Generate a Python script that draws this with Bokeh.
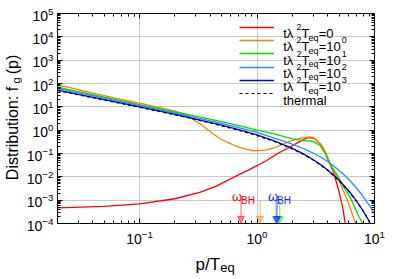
from bokeh.plotting import figure
from bokeh.layouts import column, row
from bokeh.models import (LogAxis, FixedTicker, Label, Legend, LegendItem, Arrow,
                          NormalHead, Range1d, CustomJSTickFormatter, Spacer)
from bokeh.embed import file_html
from bokeh.resources import INLINE

# ---------------- data ----------------
x_red = [0.02, 0.05, 0.1, 0.2, 0.33, 0.45, 0.63, 0.85, 1.0, 1.21, 1.5, 1.91, 2.32, 2.6, 2.8, 3.1,
         3.44, 3.7, 3.94, 4.2, 4.5, 4.8, 5.08, 5.4, 5.65]
y_red = [4.7e-4, 5.4e-4, 6.9e-4, 1.15e-3, 2.2e-3, 4.0e-3, 9.5e-3, 0.02, 0.03, 0.05, 0.1, 0.19, 0.33,
         0.44, 0.48, 0.43, 0.26, 0.15, 0.075, 0.034, 0.014, 0.0048, 1.6e-3, 4.0e-4, 9.0e-5]

x_orange = [0.02, 0.021, 0.025, 0.03, 0.04, 0.05, 0.07, 0.1, 0.14, 0.2, 0.237, 0.28, 0.328, 0.4,
            0.485, 0.57, 0.673, 0.8, 0.93, 1.05, 1.21, 1.4, 1.57, 1.9, 2.2, 2.5, 2.8, 3.1, 3.44,
            3.7, 3.94, 4.2, 4.5, 4.92, 5.43, 5.98, 6.6, 7.0]
y_orange = [90, 80, 68, 54, 39, 30, 21, 14.5, 10, 6.6, 5.0, 3.0, 1.87, 0.85, 0.43, 0.29, 0.2,
            0.155, 0.134, 0.132, 0.144, 0.175, 0.22, 0.33, 0.42, 0.48, 0.51, 0.45, 0.27, 0.16,
            0.08, 0.036, 0.016, 0.0081, 0.0026, 8.0e-4, 1.9e-4, 8.0e-5]

x_green = [0.02, 0.03, 0.05, 0.1, 0.2, 0.3, 0.5, 0.7, 1.0, 1.4, 2.0, 2.5, 3.0, 3.44, 3.8, 4.12,
           4.83, 5.5, 6.2, 7.4, 8.0]
y_green = [69, 45, 26, 12.3, 6.0, 4.0, 2.3, 1.58, 1.0, 0.69, 0.42, 0.36, 0.33, 0.22, 0.1, 0.04,
           0.0115, 3.5e-3, 1.35e-3, 1.9e-4, 9.0e-5]

x_lblue = [0.02, 0.03, 0.05, 0.1, 0.2, 0.3, 0.5, 0.7, 1.0, 1.4, 2.0, 2.5, 3.0, 3.5, 4.0, 5.0, 6.0,
           7.0, 8.0, 9.0, 10.0]
y_lblue = [60, 40, 23.5, 11.2, 5.33, 3.43, 1.96, 1.3, 0.8, 0.46, 0.25, 0.16, 0.105, 0.069, 0.045,
           0.019, 0.0081, 0.0034, 0.00145, 6.2e-4, 2.7e-4]

x_blue = [0.02, 0.03, 0.05, 0.1, 0.2, 0.3, 0.5, 0.7, 1.0, 1.4, 2.0, 2.5, 3.0, 3.5, 4.0, 5.0, 6.0,
          7.0, 8.0, 9.0, 10.0]
y_blue = [52, 34.5, 20.4, 9.9, 4.75, 3.0, 1.63, 1.05, 0.63, 0.35, 0.165, 0.094, 0.055, 0.0325,
          0.0195, 0.0071, 0.0026, 9.5e-4, 3.5e-4, 1.28e-4, 4.7e-5]

x_thermal = [0.02, 0.025, 0.03, 0.04, 0.05, 0.07, 0.1, 0.14, 0.2, 0.3, 0.4, 0.5, 0.7, 1.0, 1.4,
             2.0, 2.5, 3.0, 3.5, 4.0, 5.0, 6.0, 7.0, 8.0, 9.0, 10.0]
y_thermal = [49.5, 39.5, 32.8, 24.5, 19.5, 13.8, 9.5, 6.65, 4.52, 2.86, 2.03, 1.54, 0.986, 0.582,
             0.327, 0.157, 0.0894, 0.0524, 0.0311, 0.0187, 0.0068, 0.00249, 9.1e-4, 3.4e-4,
             1.23e-4, 4.5e-5]

series_x = [x_red, x_orange, x_green, x_lblue, x_blue]
series_y = [y_red, y_orange, y_green, y_lblue, y_blue]
series_colors = ["#ff0000", "#ff8000", "#00dd00", "#1e90ff", "#0000ff"]
legend_value = ["0", "10", "10", "10", "10"]
legend_expo = ["", "0", "1", "2", "3"]
omega_bh = [0.73, 1.06, 1.56, 1.45, 1.48]

x_major = [0.01, 0.1, 1, 10]
y_major = [10.0 ** e for e in range(-4, 6)]

FONT = "Liberation Sans"

# ---------------- main plot ----------------
p = figure(x_axis_type="log", y_axis_type="log",
           x_range=Range1d(0.02, 10), y_range=Range1d(1e-4, 1e5),
           frame_width=317, frame_height=210,
           min_border_left=35, min_border_top=13, min_border_right=17, min_border_bottom=27,
           output_backend="svg", toolbar_location=None,
           background_fill_color="white", border_fill_color="white",
           outline_line_color="black", outline_line_width=1)

x_minor = [k * 10.0 ** e for e in (-2, -1, 0) for k in range(2, 10)]
y_minor = [k * 10.0 ** e for e in range(-4, 5) for k in range(2, 10)]
xt = FixedTicker(ticks=x_major, minor_ticks=x_minor)
yt = FixedTicker(ticks=y_major, minor_ticks=y_minor)

def style_axis(ax):
    ax.major_tick_in = 5
    ax.major_tick_out = 0
    ax.minor_tick_in = 3
    ax.minor_tick_out = 0
    ax.axis_line_color = "black"
    ax.major_tick_line_color = "black"
    ax.minor_tick_line_color = "black"
    ax.major_label_text_font = FONT
    ax.major_label_text_font_size = "14px"
    ax.major_label_text_color = "black"

p.xaxis.ticker = xt
p.yaxis.ticker = yt
p.xgrid.ticker = xt
p.ygrid.ticker = yt
for ax in p.xaxis + p.yaxis:
    style_axis(ax)
p.xaxis.major_label_standoff = 6
p.yaxis.major_label_standoff = 4

blank = CustomJSTickFormatter(code="return ''")
top_ax = LogAxis(ticker=xt, formatter=blank)
right_ax = LogAxis(ticker=yt, formatter=blank)
style_axis(top_ax)
style_axis(right_ax)
p.add_layout(top_ax, "above")
p.add_layout(right_ax, "right")

p.xgrid.grid_line_color = "#c8c8c8"
p.ygrid.grid_line_color = "#c8c8c8"

renderers = []
for xs, ys, c in zip(series_x, series_y, series_colors):
    renderers.append(p.line(xs, ys, line_color=c, line_width=1.3))
renderers.append(p.line(x_thermal, y_thermal, line_color="black", line_width=1.2, line_dash="3 3"))

# legend samples (one small legend per row)
for i, r in enumerate(renderers):
    lg = Legend(items=[LegendItem(label="", renderers=[r])],
                location=(182, 191.3 - 13.33 * i),
                glyph_width=35, glyph_height=10, label_height=10, label_width=0,
                label_standoff=0, padding=0, margin=0, spacing=0,
                border_line_color=None, background_fill_alpha=0)
    p.add_layout(lg)

def lab(fig, x, y, dx, dy, text, size, color="black"):
    fig.add_layout(Label(x=x, y=y, x_offset=dx, y_offset=dy, text=text,
                         text_font=FONT, text_font_size=size, text_color=color,
                         text_align="left", text_baseline="alphabetic"))

X0 = -91.3
for i in range(5):
    by = -20 - 13.33 * i
    lab(p, 10, 1e5, X0, by, "t\u03bb", "13px")
    lab(p, 10, 1e5, X0 + 13.3, by + 6.5, "2", "9px")
    lab(p, 10, 1e5, X0 + 18.3, by, "T", "13px")
    lab(p, 10, 1e5, X0 + 25.3, by - 4, "eq", "9px")
    lab(p, 10, 1e5, X0 + 35.5, by, "=" + legend_value[i], "13px")
    if legend_expo[i]:
        lab(p, 10, 1e5, X0 + 58.5, by + 6.5, legend_expo[i], "9px")
lab(p, 10, 1e5, X0, -20 - 13.33 * 5, "thermal", "13px")

# omega_BH arrows
for w, c in zip(omega_bh, series_colors):
    p.add_layout(Arrow(x_start=w, y_start=1e-3, x_end=w, y_end=1e-4,
                       line_color=c, line_alpha=0.5, line_width=1.2,
                       end=NormalHead(size=7, fill_color=c, fill_alpha=0.5,
                                      line_color=c, line_alpha=0.5)))
for w, c in ((omega_bh[0], "#ff0000"), (omega_bh[4], "#2020ff")):
    lab(p, w, 1e-3, -9, 4, "\u03c9", "13px", c)
    lab(p, w, 1e-3, 0, 0, "BH", "10px", c)

# ---------------- y title: stacked strips, each piece is an axis title ----------------
def vstrip(h, text, size, standoff):
    f = figure(width=22, height=h, x_range=Range1d(0, 1), y_range=Range1d(0, 1),
               min_border_left=20, min_border_right=0, min_border_top=0, min_border_bottom=0,
               output_backend="svg", toolbar_location=None,
               x_axis_location=None, y_axis_location="left", outline_line_color=None,
               background_fill_color="white", border_fill_color="white", title=None)
    ax = f.yaxis[0]
    ax.ticker = FixedTicker(ticks=[])
    ax.axis_line_color = None
    ax.major_tick_line_color = None
    ax.minor_tick_line_color = None
    ax.major_tick_in = ax.major_tick_out = ax.minor_tick_in = ax.minor_tick_out = 0
    ax.major_label_standoff = 0
    ax.axis_label = text
    ax.axis_label_text_font = FONT
    ax.axis_label_text_font_size = size
    ax.axis_label_text_font_style = "normal"
    ax.axis_label_text_color = "black"
    ax.axis_label_standoff = standoff
    f.grid.visible = False
    return f

ytitle = column(Spacer(width=22, height=54),
                vstrip(20, "(p)", "16px", 0),
                vstrip(12, "g", "11px", -1),
                vstrip(94, "Distribution: f", "16px", 0),
                Spacer(width=22, height=70))

# ---------------- x title strip ----------------
xlab = figure(width=391, height=29, x_range=Range1d(0, 391), y_range=Range1d(0, 29),
              min_border=0, output_backend="svg", toolbar_location=None,
              x_axis_location=None, y_axis_location=None, outline_line_color=None,
              background_fill_color="white", border_fill_color="white", title=None)
xlab.grid.visible = False
lab(xlab, 195, 15.3, 0, 0, "p/T", "17px")
lab(xlab, 219.8, 12.5, 0, 0, "eq", "13px")

layout = column(row(ytitle, p), xlab)
open("out.html", "w").write(file_html(layout, INLINE))
